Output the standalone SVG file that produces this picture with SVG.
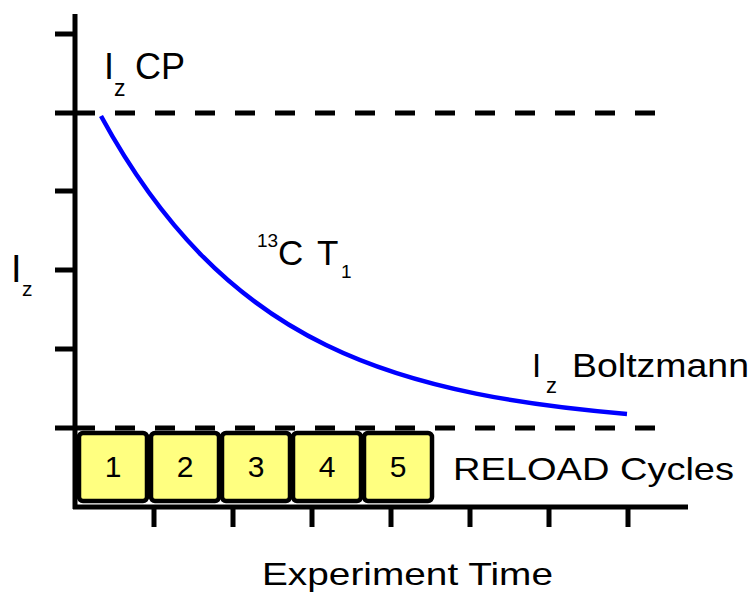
<svg xmlns="http://www.w3.org/2000/svg" width="754" height="592" viewBox="0 0 754 592">
<style>
.ax{stroke:#000;stroke-width:5;fill:none}
.dash{stroke:#000;stroke-width:5;fill:none;stroke-dasharray:20 20}
.box{fill:#ffff80;stroke:#000;stroke-width:4.5}
.t{font-family:"Liberation Sans",Arial,sans-serif;fill:#000}
.num{font-family:"Liberation Sans",Arial,sans-serif;font-size:30px;text-anchor:middle;fill:#000}
</style>
<rect width="754" height="592" fill="#fff"/>
<g id="axes">
<path class="ax" d="M75,14 V509 M73,507 H688"/>
<path class="ax" d="M55,34 H75 M55,113 H75 M55,191 H75 M55,270 H75 M55,349 H75 M55,428 H75"/>
<path class="ax" d="M154,507 V527 M233,507 V527 M312,507 V527 M391,507 V527 M470,507 V527 M549,507 V527 M628,507 V527"/>
</g>
<g id="connectors">
<path class="dash" d="M75,113 H655"/>
<path class="dash" d="M75,428 H655"/>
<path fill="none" stroke="#0000ff" stroke-width="4.5" d="M101,116 C134.3,177.2 167.7,220.7 201,254.7 C242.7,297.2 284.3,324.7 326,345 C376,369.4 426,383.5 476,393.6 C526.3,403.8 576.7,409.7 627,413.9"/>
</g>
<g id="cycle1"><rect class="box" x="79" y="433" width="68" height="68" rx="4"/><text class="num" x="113" y="477">1</text></g>
<g id="cycle2"><rect class="box" x="151" y="433" width="68" height="68" rx="4"/><text class="num" x="185" y="477">2</text></g>
<g id="cycle3"><rect class="box" x="222" y="433" width="68" height="68" rx="4"/><text class="num" x="256" y="477">3</text></g>
<g id="cycle4"><rect class="box" x="293" y="433" width="68" height="68" rx="4"/><text class="num" x="327" y="477">4</text></g>
<g id="cycle5"><rect class="box" x="364" y="433" width="68" height="68" rx="4"/><text class="num" x="398" y="477">5</text></g>
<g id="labels">
<text class="t" x="104" y="79" font-size="36">I</text>
<text class="t" x="114" y="96" font-size="23">z</text>
<text class="t" x="135" y="79" font-size="36">CP</text>
<text class="t" x="11" y="282" font-size="38">I</text>
<text class="t" x="22" y="296" font-size="21">z</text>
<text class="t" x="257" y="247" font-size="19">13</text>
<text class="t" x="278" y="265" font-size="35">C</text>
<text class="t" x="317" y="265" font-size="35">T</text>
<text class="t" x="341" y="278" font-size="19">1</text>
<text class="t" x="532" y="377" font-size="33">I</text>
<text class="t" x="546" y="393" font-size="22">z</text>
<text class="t" x="572" y="377" font-size="33" textLength="177" lengthAdjust="spacingAndGlyphs">Boltzmann</text>
<text class="t" x="453" y="480" font-size="32" textLength="281" lengthAdjust="spacingAndGlyphs">RELOAD Cycles</text>
<text class="t" x="262" y="585" font-size="32" textLength="291" lengthAdjust="spacingAndGlyphs">Experiment Time</text>
</g>
</svg>
